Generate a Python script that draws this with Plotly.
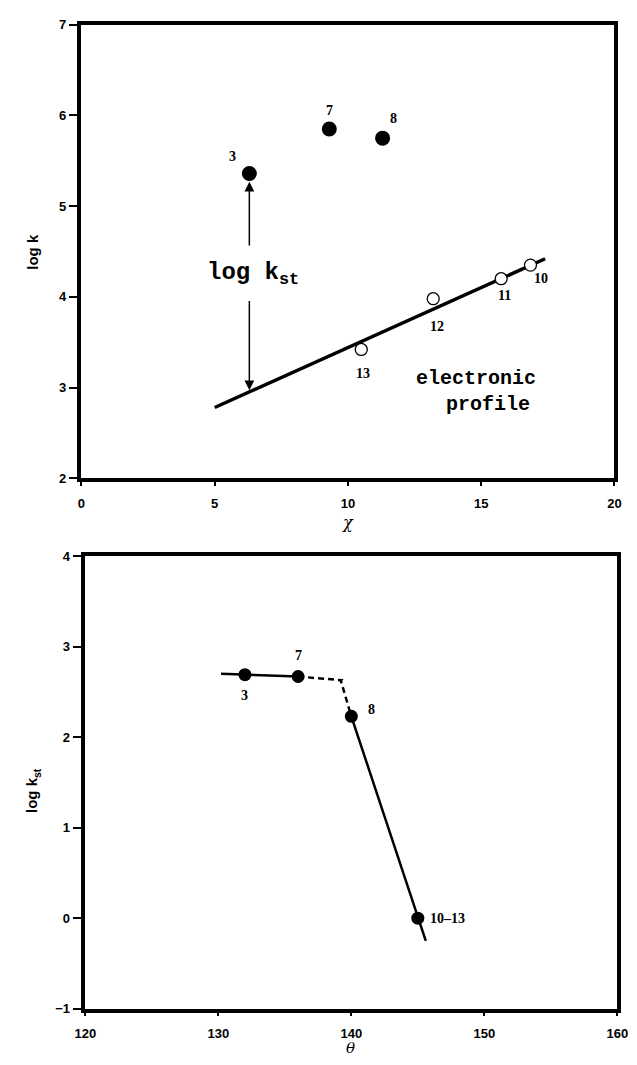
import plotly.graph_objects as go

# ---- top panel data ----
chi_filled = [6.3, 9.3, 11.3]
logk_filled = [5.36, 5.85, 5.75]
labels_filled = ["3", "7", "8"]

chi_open = [10.5, 13.2, 15.75, 16.85]
logk_open = [3.42, 3.98, 4.20, 4.35]
labels_open = ["13", "12", "11", "10"]

chi_fit = [5.0, 17.4]
logk_fit = [2.78, 4.42]

x_ticks_top = [0, 5, 10, 15, 20]
y_ticks_top = [2, 3, 4, 5, 6, 7]

# ---- bottom panel data ----
theta = [132, 136, 140, 145]
logkst = [2.69, 2.67, 2.23, 0.0]
labels_bottom = ["3", "7", "8", "10\u201313"]

theta_seg1 = [130.2, 132, 136]
logkst_seg1 = [2.70, 2.69, 2.67]
theta_dash = [136, 139.2, 140]
logkst_dash = [2.67, 2.63, 2.23]
theta_seg2 = [140, 145, 145.6]
logkst_seg2 = [2.23, 0.0, -0.25]

x_ticks_bot = [120, 130, 140, 150, 160]
y_ticks_bot = [-1, 0, 1, 2, 3, 4]

W, H = 637, 1065

def px_x(p):
    return p / W

def px_y(p):
    return 1 - p / H

fig = go.Figure()

# top panel
fig.add_trace(go.Scatter(x=chi_fit, y=logk_fit, mode="lines",
                         line=dict(color="black", width=3.5),
                         xaxis="x", yaxis="y", showlegend=False))
fig.add_trace(go.Scatter(x=chi_filled, y=logk_filled, mode="markers",
                         marker=dict(color="black", size=15, line=dict(width=0)),
                         xaxis="x", yaxis="y", showlegend=False))
fig.add_trace(go.Scatter(x=chi_open, y=logk_open, mode="markers",
                         marker=dict(color="white", size=12, line=dict(color="black", width=1.3)),
                         xaxis="x", yaxis="y", showlegend=False))

# bottom panel
fig.add_trace(go.Scatter(x=theta_seg1, y=logkst_seg1, mode="lines",
                         line=dict(color="black", width=2.5),
                         xaxis="x2", yaxis="y2", showlegend=False))
fig.add_trace(go.Scatter(x=theta_dash, y=logkst_dash, mode="lines",
                         line=dict(color="black", width=2.5, dash="6px,4px"),
                         xaxis="x2", yaxis="y2", showlegend=False))
fig.add_trace(go.Scatter(x=theta_seg2, y=logkst_seg2, mode="lines",
                         line=dict(color="black", width=2.5),
                         xaxis="x2", yaxis="y2", showlegend=False))
fig.add_trace(go.Scatter(x=[theta_dash[1]], y=[logkst_dash[1]], mode="markers",
                         marker=dict(symbol="triangle-down", color="black", size=5),
                         xaxis="x2", yaxis="y2", showlegend=False))
fig.add_trace(go.Scatter(x=theta, y=logkst, mode="markers",
                         marker=dict(color="black", size=13, line=dict(width=0)),
                         xaxis="x2", yaxis="y2", showlegend=False))

label_font = dict(family="Liberation Serif", size=14, color="black", weight="bold")
ann = []
top_shifts_filled = [(-17, 17), (0, 19), (11, 20)]
for xv, yv, t, (dx, dy) in zip(chi_filled, logk_filled, labels_filled, top_shifts_filled):
    ann.append(dict(x=xv, y=yv, xref="x", yref="y", text=t, showarrow=False,
                    xshift=dx, yshift=dy, xanchor="center", yanchor="middle", font=label_font))
top_shifts_open = [(2, -24), (4, -28), (3, -17), (11, -13)]
for xv, yv, t, (dx, dy) in zip(chi_open, logk_open, labels_open, top_shifts_open):
    ann.append(dict(x=xv, y=yv, xref="x", yref="y", text=t, showarrow=False,
                    xshift=dx, yshift=dy, xanchor="center", yanchor="middle", font=label_font))
bot_shifts = [(0, -21, "center"), (0, 21, "center"), (20, 7, "center"), (10, 0, "left")]
for xv, yv, t, (dx, dy, xa) in zip(theta, logkst, labels_bottom, bot_shifts):
    ann.append(dict(x=xv, y=yv, xref="x2", yref="y2", text=t, showarrow=False,
                    xshift=dx, yshift=dy, xanchor=xa, yanchor="middle", font=label_font))

# double arrow log k_st
arrow_x = chi_filled[0]
ann.append(dict(x=arrow_x, y=5.27, ax=arrow_x, ay=4.55, xref="x", yref="y",
                axref="x", ayref="y", showarrow=True, arrowhead=2, arrowsize=1.3,
                arrowwidth=1.5, arrowcolor="black", text=""))
ann.append(dict(x=arrow_x, y=2.97, ax=arrow_x, ay=3.97, xref="x", yref="y",
                axref="x", ayref="y", showarrow=True, arrowhead=2, arrowsize=1.3,
                arrowwidth=1.5, arrowcolor="black", text=""))
mono = dict(family="Liberation Mono", size=24, color="black", weight="bold")
ann.append(dict(x=6.45, y=4.25, xref="x", yref="y", text="log k<sub>st</sub>",
                xanchor="center", yanchor="middle", showarrow=False, font=mono))
mono2 = dict(family="Liberation Mono", size=20, color="black", weight="bold")
ann.append(dict(x=14.8, y=3.1, xref="x", yref="y", text="electronic",
                xanchor="center", yanchor="middle", showarrow=False, font=mono2))
ann.append(dict(x=15.25, y=2.81, xref="x", yref="y", text="profile",
                xanchor="center", yanchor="middle", showarrow=False, font=mono2))

# axis titles
title_font = dict(family="Liberation Sans", size=15, color="black", weight="bold")
ann.append(dict(x=px_x(22), y=px_y(248), xref="paper", yref="paper", text="log k",
                xanchor="center", yanchor="middle",
                textangle=-90, showarrow=False, font=title_font))
ann.append(dict(x=px_x(349), y=px_y(523), xref="paper", yref="paper", text="\u03c7",
                xanchor="center", yanchor="middle", showarrow=False,
                font=dict(family="DejaVu Serif", size=16, color="black", style="italic")))
ann.append(dict(x=px_x(23), y=px_y(795), xref="paper", yref="paper", text="log k<sub>st</sub>",
                xanchor="center", yanchor="middle",
                textangle=-90, showarrow=False, font=title_font))
ann.append(dict(x=px_x(352), y=px_y(1056), xref="paper", yref="paper", text="\u03b8",
                xanchor="center", yanchor="middle", showarrow=False,
                font=dict(family="DejaVu Serif", size=15, color="black", style="italic")))

tick_font = dict(family="Liberation Sans", size=13, color="black", weight="bold")
axis_common = dict(showgrid=False, zeroline=False, showline=True, linecolor="black",
                   linewidth=3.5, mirror=True, ticks="outside", tickwidth=1.5,
                   tickcolor="black", tickfont=tick_font)
xax = dict(ticklen=4, ticklabelstandoff=6, **axis_common)
yax = dict(ticklen=9, **axis_common)

fig.update_layout(
    width=W, height=H,
    margin=dict(l=0, r=0, t=0, b=0),
    paper_bgcolor="white", plot_bgcolor="white",
    xaxis=dict(domain=[px_x(73), px_x(625)], range=[0, 20], tickvals=x_ticks_top,
               anchor="y", **xax),
    yaxis=dict(domain=[px_y(478), px_y(18)], range=[2, 7], tickvals=y_ticks_top,
               anchor="x", **yax),
    xaxis2=dict(domain=[px_x(77), px_x(628)], range=[120, 160], tickvals=x_ticks_bot,
                anchor="y2", **xax),
    yaxis2=dict(domain=[px_y(1016), px_y(557)], range=[-1, 4], tickvals=y_ticks_bot,
                anchor="x2", **yax),
    annotations=ann,
)

fig.write_html("out.html")
